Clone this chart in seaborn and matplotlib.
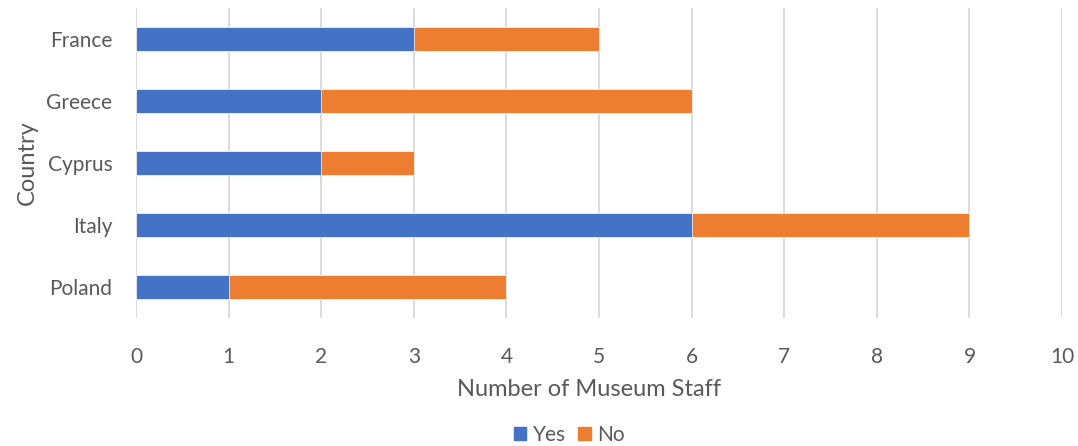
import matplotlib
matplotlib.use("Agg")
import matplotlib.pyplot as plt
import seaborn as sns
import pandas as pd
from matplotlib.patches import Patch

countries = ["France", "Greece", "Cyprus", "Italy", "Poland"]
yes_counts = [3, 2, 2, 6, 1]
no_counts = [2, 4, 1, 3, 3]

df = pd.DataFrame({"Country": countries, "Yes": yes_counts, "No": no_counts})
df["Total"] = df["Yes"] + df["No"]

BLUE = "#4472C4"
ORANGE = "#ED7D31"
TEXT = "#595959"
GRID = "#D9D9D9"

sns.set_theme(style="white")
plt.rcParams["font.family"] = ["Lato", "DejaVu Sans"]

fig = plt.figure(figsize=(10.78, 4.46), dpi=100)
ax = fig.add_axes([0.1262, 0.287, 0.859, 0.695])

# stacked bars: total in orange underneath, "Yes" share in blue on top
sns.barplot(data=df, y="Country", x="Total", color=ORANGE, orient="h",
            width=0.4, ax=ax, saturation=1, edgecolor="white", linewidth=0.5, zorder=3)
sns.barplot(data=df, y="Country", x="Yes", color=BLUE, orient="h",
            width=0.4, ax=ax, saturation=1, edgecolor="white", linewidth=0.5, zorder=4)

ax.set_xlim(0, 10)
ax.set_ylim(4.5, -0.5)
ax.set_xticks(range(0, 11))
ax.grid(axis="x", color=GRID, linewidth=1.3, zorder=0)
ax.grid(axis="y", visible=False)
for s in ax.spines.values():
    s.set_visible(False)

ax.tick_params(axis="both", length=0, labelsize=15, colors=TEXT)
ax.tick_params(axis="x", pad=21)
ax.tick_params(axis="y", pad=17)
ax.set_xlabel("Number of Museum Staff", fontsize=17, color=TEXT)
ax.set_ylabel("Country", fontsize=17, color=TEXT, labelpad=6)
ax.xaxis.set_label_coords(0.489, -0.197)

handles = [Patch(color=BLUE, label="Yes"), Patch(color=ORANGE, label="No")]
fig.legend(handles=handles, loc="lower center", bbox_to_anchor=(0.528, -0.04), ncol=2,
           frameon=False, fontsize=15, handlelength=0.6, handleheight=0.6,
           handletextpad=0.3, columnspacing=0.6, labelcolor=TEXT)

fig.savefig("out.png", dpi=100)
